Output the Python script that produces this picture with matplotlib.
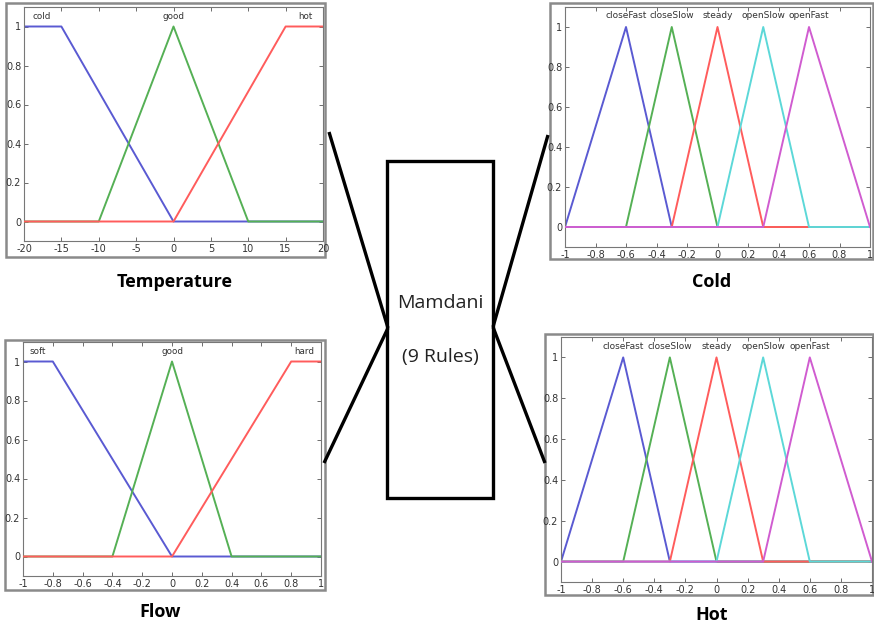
import matplotlib
matplotlib.use("Agg")
import matplotlib.pyplot as plt
from matplotlib.patches import Rectangle
import numpy as np

# ---------------- data ----------------
temp_names = ["cold", "good", "hot"]
temp_cold = [-20, -20, -15, 0]      # trapezoid a,b,c,d
temp_good = [-10, 0, 10]            # triangle a,b,c
temp_hot = [0, 15, 20, 20]          # trapezoid
temp_range = [-20, 20]
temp_xticks = [-20, -15, -10, -5, 0, 5, 10, 15, 20]
temp_label_x = [-17.7, 0, 17.6]

flow_names = ["soft", "good", "hard"]
flow_soft = [-1, -1, -0.8, 0]
flow_good = [-0.4, 0, 0.4]
flow_hard = [0, 0.8, 1, 1]
flow_range = [-1, 1]
flow_xticks = [-1, -0.8, -0.6, -0.4, -0.2, 0, 0.2, 0.4, 0.6, 0.8, 1]
flow_label_x = [-0.9, 0, 0.89]

out_names = ["closeFast", "closeSlow", "steady", "openSlow", "openFast"]
out_params = [[-1, -0.6, -0.3], [-0.6, -0.3, 0], [-0.3, 0, 0.3],
              [0, 0.3, 0.6], [0.3, 0.6, 1]]
out_range = [-1, 1]
out_xticks = [-1, -0.8, -0.6, -0.4, -0.2, 0, 0.2, 0.4, 0.6, 0.8, 1]
yticks = [0, 0.2, 0.4, 0.6, 0.8, 1]

panel_titles = ["Temperature", "Cold", "Flow", "Hot"]
center_text = ["Mamdani", "(9 Rules)"]

colors3 = ["#5a5ad2", "#55b055", "#ff5c5c"]
colors5 = ["#5a5ad2", "#55b055", "#ff5c5c", "#5cd8d8", "#d05cd0"]

# ---------------- helpers ----------------
W, H = 874, 629
fig = plt.figure(figsize=(W / 100, H / 100), dpi=100)
fig.patch.set_facecolor("white")


def fig_rect(x0, y0, x1, y1):
    return [x0 / W, 1 - y1 / H, (x1 - x0) / W, (y1 - y0) / H]


def trap_pts(p, rng):
    a, b, c, d = p
    xs = [rng[0], a, b, c, d, rng[1]]
    ys = [0 if rng[0] < a else 1, 0 if a < b else 1, 1, 1, 0 if c < d else 1, 0 if d < rng[1] else 1]
    return xs, ys


def tri_pts(p, rng):
    a, b, c = p
    xs = [rng[0], a, b, c, rng[1]]
    ys = [0, 0, 1, 0, 0]
    return xs, ys


def fmt(v):
    if abs(v - round(v)) < 1e-9:
        return str(int(round(v)))
    return "%.1f" % v


def style_axes(ax, rng, xticks):
    ax.set_xlim(rng)
    ax.set_ylim(-0.1, 1.1)
    ax.set_xticks(xticks)
    ax.set_xticklabels([fmt(v) for v in xticks])
    ax.set_yticks(yticks)
    ax.set_yticklabels([fmt(v) for v in yticks])
    ax.tick_params(direction="in", length=3, width=0.6, colors="#555555",
                   labelcolor="#333333", labelsize=7, pad=2,
                   top=True, right=True)
    for s in ax.spines.values():
        s.set_color("#777777")
        s.set_linewidth(0.8)


def frame(x0, y0, x1, y1):
    fig.add_artist(Rectangle((x0 / W, 1 - y1 / H), (x1 - x0) / W, (y1 - y0) / H,
                             transform=fig.transFigure, fill=False,
                             edgecolor="#8a8a8a", linewidth=1.8, zorder=0))


LW = 1.4

# ---------------- Temperature ----------------
frame(6, 3, 325, 257)
ax = fig.add_axes(fig_rect(24, 7, 323, 241))
for i, (p, nm) in enumerate(zip([temp_cold, temp_good, temp_hot], temp_names)):
    xs, ys = trap_pts(p, temp_range) if len(p) == 4 else tri_pts(p, temp_range)
    ax.plot(xs, ys, color=colors3[i], lw=LW, zorder=2 + i)
    ax.text(temp_label_x[i], 1.05, nm, ha="center", va="center", fontsize=6.3, color="#333333")
style_axes(ax, temp_range, temp_xticks)

# ---------------- Flow ----------------
frame(5, 340, 325, 590)
ax = fig.add_axes(fig_rect(23, 342, 321, 576))
for i, (p, nm) in enumerate(zip([flow_soft, flow_good, flow_hard], flow_names)):
    xs, ys = trap_pts(p, flow_range) if len(p) == 4 else tri_pts(p, flow_range)
    ax.plot(xs, ys, color=colors3[i], lw=LW, zorder=2 + i)
    ax.text(flow_label_x[i], 1.05, nm, ha="center", va="center", fontsize=6.3, color="#333333")
style_axes(ax, flow_range, flow_xticks)

# ---------------- Outputs ----------------
for (fr, ar) in [((550, 3, 873, 259), (565, 7, 870, 247)),
                 ((545, 334, 873, 595), (561, 337, 872, 582))]:
    frame(*fr)
    ax = fig.add_axes(fig_rect(*ar))
    for i, (p, nm) in enumerate(zip(out_params, out_names)):
        xs, ys = tri_pts(p, out_range)
        ax.plot(xs, ys, color=colors5[i], lw=LW, zorder=2 + i)
        ax.text(p[1], 1.055, nm, ha="center", va="center", fontsize=6.5, color="#333333")
    style_axes(ax, out_range, out_xticks)

# ---------------- overlay: titles, box, connectors ----------------
ov = fig.add_axes([0, 0, 1, 1], facecolor="none")
ov.set_xlim(0, W)
ov.set_ylim(H, 0)
ov.axis("off")

title_pos = [(175, 282), (712, 282), (160, 612), (712, 615)]
for t, (x, y) in zip(panel_titles, title_pos):
    ov.text(x, y, t, ha="center", va="center", fontsize=13, fontweight="bold",
            family="Open Sans", color="black")

ov.add_patch(Rectangle((387, 161), 493 - 387, 498 - 161, fill=False,
                       edgecolor="black", linewidth=2.4))
ov.text(440, 303, center_text[0], ha="center", va="center", fontsize=14,
        family="Open Sans", color="#222222")
ov.text(440, 357, center_text[1], ha="center", va="center", fontsize=14,
        family="Open Sans", color="#222222")

conn = [((329, 132), (388, 328)), ((324, 463), (388, 328)),
        ((548, 135), (493, 327)), ((545, 463), (493, 327))]
for (p0, p1) in conn:
    ov.plot([p0[0], p1[0]], [p0[1], p1[1]], color="black", lw=2.4,
            solid_capstyle="butt")

fig.savefig("out.png", dpi=100, facecolor="white")
